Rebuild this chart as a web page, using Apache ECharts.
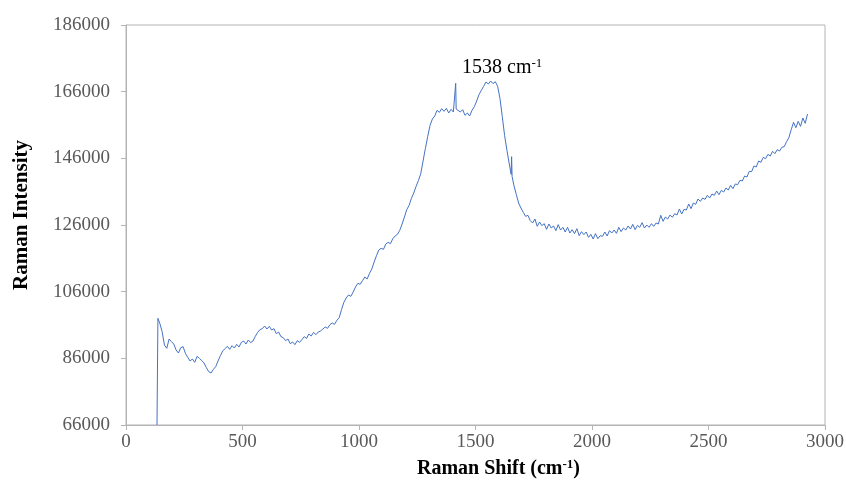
<!DOCTYPE html>
<html>
<head>
<meta charset="utf-8">
<title>Raman spectrum</title>
<script src="https://cdn.jsdelivr.net/npm/echarts@6/dist/echarts.min.js"></script>
<style>
    html, body { margin: 0; padding: 0; background: #fff; }
    #chart { width: 846px; height: 489px; }
</style>
</head>
<body>
<div id="chart"></div>
<script>
// values
const ramanShift = [
    133, 137, 145, 155, 165, 175, 185, 195, 205, 215, 225, 235, 245, 255, 265, 275, 285, 295, 305, 315,
    325, 335, 345, 355, 365, 375, 385, 395, 405, 415, 425, 435, 445, 455, 465, 475, 485, 495, 505, 515,
    525, 535, 545, 555, 565, 575, 585, 595, 605, 615, 625, 635, 645, 655, 665, 675, 685, 695, 705, 715,
    725, 735, 745, 755, 765, 775, 785, 795, 805, 815, 825, 835, 845, 855, 865, 875, 885, 895, 905, 915,
    925, 935, 945, 955, 965, 975, 985, 995, 1005, 1015, 1025, 1035, 1045, 1055, 1065, 1075, 1085, 1095, 1105, 1115,
    1125, 1135, 1145, 1155, 1165, 1175, 1185, 1195, 1205, 1215, 1225, 1235, 1245, 1255, 1265, 1275, 1285, 1295, 1305, 1315,
    1325, 1335, 1345, 1355, 1365, 1375, 1385, 1395, 1405, 1413, 1415, 1417, 1425, 1435, 1445, 1455, 1465, 1475, 1485, 1495,
    1505, 1515, 1525, 1535, 1545, 1555, 1565, 1575, 1585, 1595, 1605, 1615, 1625, 1635, 1645, 1653, 1655, 1657, 1665, 1675,
    1685, 1695, 1705, 1715, 1725, 1735, 1745, 1755, 1765, 1775, 1785, 1795, 1805, 1815, 1825, 1835, 1845, 1855, 1865, 1875,
    1885, 1895, 1905, 1915, 1925, 1935, 1945, 1955, 1965, 1975, 1985, 1995, 2005, 2015, 2025, 2035, 2045, 2055, 2065, 2075,
    2085, 2095, 2105, 2115, 2125, 2135, 2145, 2155, 2165, 2175, 2185, 2195, 2205, 2215, 2225, 2235, 2245, 2255, 2265, 2275,
    2285, 2295, 2305, 2315, 2325, 2335, 2345, 2355, 2365, 2375, 2385, 2395, 2405, 2415, 2425, 2435, 2445, 2455, 2465, 2475,
    2485, 2495, 2505, 2515, 2525, 2535, 2545, 2555, 2565, 2575, 2585, 2595, 2605, 2615, 2625, 2635, 2645, 2655, 2665, 2675,
    2685, 2695, 2705, 2715, 2725, 2735, 2745, 2755, 2765, 2775, 2785, 2795, 2805, 2815, 2825, 2835, 2845, 2855, 2865, 2875,
    2885, 2895, 2905, 2915, 2925
];
const intensity = [
    66000, 98000, 96500, 94000, 90000, 89000, 91800, 91000, 90300, 88500, 87600, 89200, 89500, 87500, 86300, 85200, 85800, 84800, 86600, 86000,
    85300, 84600, 83200, 82000, 81600, 82700, 83500, 85200, 86800, 88200, 88900, 89600, 88700, 89800, 89100, 90200, 89400, 90800, 91200, 90300,
    91500, 90700, 91200, 92600, 93800, 94600, 94900, 95700, 94800, 95600, 94500, 94900, 93400, 93900, 92500, 92200, 91300, 91800, 90400, 90900,
    90100, 91300, 90800, 91600, 92500, 92000, 93300, 92700, 93800, 93100, 93900, 94200, 94800, 95400, 95000, 96100, 96600, 96200, 97400, 98200,
    100600, 102800, 104100, 105000, 104600, 105900, 107400, 108500, 108200, 109300, 110400, 109800, 111500, 112800, 114900, 116800, 118500, 119000, 118700, 120300,
    120800, 120400, 121900, 122700, 123200, 124400, 126300, 128400, 130600, 131900, 134000, 135600, 137600, 139300, 141400, 145200, 149000, 152600, 155900, 157800,
    158700, 160400, 159800, 160900, 160100, 161000, 159600, 160700, 159900, 160300, 168500, 160800, 161200, 159900, 160600, 158900, 159600, 158700, 160400, 161500,
    163200, 165100, 166400, 167600, 168900, 168300, 169200, 168400, 169000, 167600, 164000, 158500, 152800, 148400, 144300, 141200, 146500, 140600, 137800, 135200,
    132600, 131100, 129800, 128600, 128900, 127300, 126600, 127800, 125600, 126900, 125800, 126400, 124700, 126300, 125100, 125700, 124300, 126100, 124500, 125300,
    123900, 125300, 123600, 124600, 123400, 124900, 122800, 124000, 123100, 123900, 122300, 123200, 121800, 123400, 121900, 122800, 122600, 123900, 122700, 124300,
    123600, 124500, 123500, 125300, 124000, 125100, 124500, 125700, 124800, 126200, 124600, 125900, 125300, 126700, 125100, 126000, 125300, 126400, 125600, 126600,
    126300, 128900, 127100, 128400, 127800, 129000, 128300, 129400, 129000, 130800, 129300, 130700, 130500, 132300, 130900, 132600, 132200, 133800, 133100, 134100,
    133700, 134900, 134100, 135300, 134900, 136200, 135100, 136400, 135900, 137100, 136500, 137900, 136900, 138300, 138100, 139400, 139200, 140700, 140400, 142100,
    142000, 143700, 143400, 145200, 144800, 146300, 145900, 147200, 146700, 148100, 147400, 148600, 148200, 149300, 149500, 151000, 152200, 154600, 156800, 155200,
    157100, 155600, 158100, 156500, 159300
];
const xTicks = [0, 500, 1000, 1500, 2000, 2500, 3000];
const yTicks = [66000, 86000, 106000, 126000, 146000, 166000, 186000];

const serif = "'Liberation Serif', 'DejaVu Serif', serif";
const axisGrey = "#b4b4b4";
const labelGrey = "#595959";

const chart = echarts.init(document.getElementById("chart"));

chart.setOption({
    animation: false,
    grid: {
        left: 126,
        right: 21,
        top: 25,
        bottom: 64,
        containLabel: false,
        outerBoundsMode: "none",
        show: true,
        borderColor: axisGrey,
        borderWidth: 1,
    },
    xAxis: {
        type: "value",
        min: xTicks[0],
        max: xTicks[xTicks.length - 1],
        interval: xTicks[1] - xTicks[0],
        name: "Raman Shift (cm{sup|-1})",
        nameLocation: "middle",
        nameGap: 33,
        nameTextStyle: {
            fontFamily: serif,
            fontWeight: "bold",
            fontSize: 20,
            color: "#000",
            padding: [0, 0, 0, 46],
            rich: {
                sup: {
                    fontFamily: serif,
                    fontWeight: "bold",
                    fontSize: 13,
                    color: "#000",
                    verticalAlign: "top",
                    padding: [0, 0, 9, 0],
                },
            },
        },
        axisLine: { lineStyle: { color: axisGrey, width: 1 } },
        axisTick: { show: true, length: 5, lineStyle: { color: axisGrey } },
        axisLabel: {
            fontFamily: serif,
            fontSize: 19,
            color: labelGrey,
            margin: 8,
            formatter: (v) => String(v),
        },
        splitLine: { show: false },
    },
    yAxis: {
        type: "value",
        min: yTicks[0],
        max: yTicks[yTicks.length - 1],
        interval: yTicks[1] - yTicks[0],
        name: "Raman Intensity",
        nameLocation: "middle",
        nameGap: 94,
        nameTextStyle: {
            fontFamily: serif,
            fontWeight: "bold",
            fontSize: 21,
            color: "#000",
            padding: [0, 0, 0, 20],
        },
        axisLine: { show: true, lineStyle: { color: axisGrey, width: 1 } },
        axisTick: { show: true, length: 5, lineStyle: { color: axisGrey } },
        axisLabel: {
            fontFamily: serif,
            fontSize: 19,
            color: labelGrey,
            margin: 16,
            formatter: (v) => String(v),
        },
        splitLine: { show: false },
    },
    graphic: [
        {
            type: "text",
            left: 462,
            top: 57,
            style: {
                text: "1538 cm{sup|-1}",
                font: "20px " + serif,
                fill: "#000",
                rich: {
                    sup: {
                        fontFamily: serif,
                        fontSize: 13,
                        fill: "#000",
                        verticalAlign: "top",
                        padding: [0, 0, 9, 0],
                    },
                },
            },
        },
    ],
    series: [
        {
            type: "line",
            data: ramanShift.map((x, i) => [x, intensity[i]]),
            showSymbol: false,
            smooth: false,
            lineStyle: { color: "#4472c4", width: 1 },
            clip: true,
        },
    ],
});
</script>
</body>
</html>
